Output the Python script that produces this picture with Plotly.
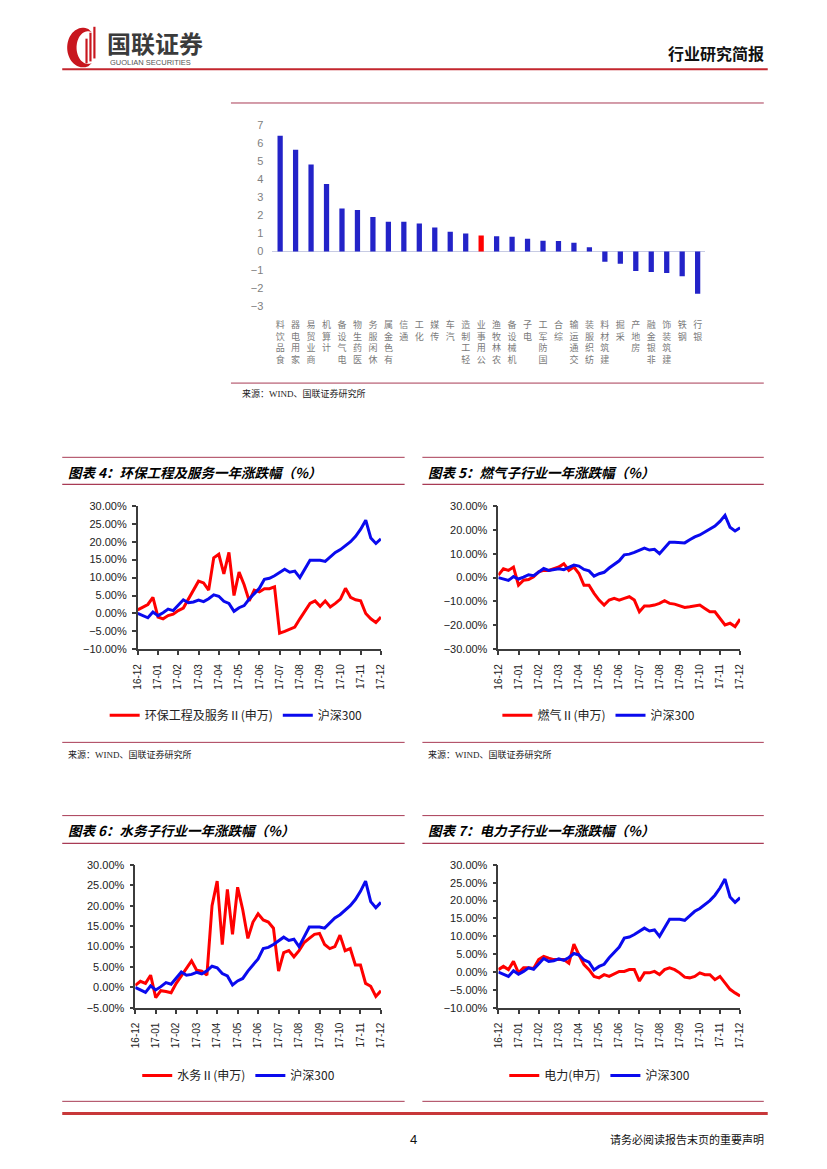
import numpy as np
import plotly.graph_objects as go

W, H = 827, 1169


def X(px):
    return px / W


def Y(py):
    return 1 - py / H


# ---------------- data ----------------
industries = ["食品饮料", "家用电器", "商业贸易", "计算机", "电气设备", "医药生物", "休闲服务",
              "有色金属", "通信", "化工", "传媒", "汽车", "轻工制造", "公用事业", "农林牧渔",
              "机械设备", "电子", "国防军工", "综合", "交通运输", "纺织服装", "建筑材料", "采掘",
              "房地产", "非银金融", "建筑装饰", "钢铁", "银行"]
industry_change = [6.40, 5.62, 4.80, 3.73, 2.38, 2.29, 1.91, 1.64, 1.64, 1.55, 1.33, 1.09, 1.00,
                   0.89, 0.84, 0.82, 0.71, 0.60, 0.58, 0.49, 0.24, -0.56, -0.67, -1.07, -1.13,
                   -1.18, -1.36, -2.33]
highlight_industry = "公用事业"

month_labels = ["16-12", "17-01", "17-02", "17-03", "17-04", "17-05", "17-06",
                "17-07", "17-08", "17-09", "17-10", "17-11", "17-12"]

hs300 = [0.0, -0.6, -1.2, 0.4, -0.6, 0.2, 1.2, 0.8, 2.2, 3.8, 3.0, 3.2, 3.7, 3.3, 4.1, 5.2,
         4.8, 3.4, 2.8, 0.6, 1.6, 2.2, 4.0, 5.5, 7.0, 9.5, 9.8, 10.5, 11.5, 12.3, 11.5, 11.8,
         10.0, 12.5, 14.8, 14.8, 14.8, 14.5, 15.8, 17.0, 17.8, 19.0, 20.0, 21.5, 23.5, 26.0,
         21.0, 19.5, 20.8]
env_service = [1.0, 1.8, 2.5, 4.5, -1.0, -1.5, -0.6, -0.2, 0.8, 1.5, 4.0, 6.5, 9.0, 8.5, 6.5,
               15.5, 16.5, 11.0, 17.0, 5.0, 11.5, 8.0, 3.5, 6.5, 6.0, 6.9, 6.9, 7.4, -5.5, -5.0,
               -4.5, -3.8, -1.5, 0.8, 2.8, 3.5, 2.0, 3.5, 1.8, 2.8, 4.0, 7.0, 4.5, 3.8, 3.5, 0.0,
               -1.5, -2.5, -1.0]
gas = [1.0, 3.7, 3.0, 4.4, -3.2, -1.1, -0.8, 0.3, 2.4, 3.0, 3.0, 3.7, 4.4, 5.8, 3.0, 4.4, 1.7,
       -3.2, -3.2, -6.6, -9.4, -11.5, -9.4, -8.7, -9.4, -8.7, -8.0, -9.4, -14.3, -11.9, -11.9,
       -11.5, -10.8, -9.7, -10.8, -11.1, -11.9, -12.5, -12.2, -11.9, -11.5, -12.9, -14.3, -14.3,
       -17.0, -19.8, -19.1, -20.5, -17.4]
water = [0.5, 1.5, 1.0, 3.0, -2.5, -0.8, -1.0, -1.3, 1.0, 2.8, 4.8, 6.5, 4.2, 4.0, 3.0, 20.0,
         26.0, 10.5, 24.0, 13.0, 24.5, 19.0, 12.0, 16.0, 18.0, 16.5, 16.0, 14.5, 4.0, 8.5, 9.0,
         7.5, 9.0, 11.0, 12.0, 13.0, 13.2, 10.5, 9.5, 10.0, 12.8, 9.0, 9.5, 5.5, 5.5, 1.0, 0.3,
         -2.2, -0.8]
power = [0.7, 1.6, 0.7, 3.0, -0.2, 1.2, 1.2, 1.0, 3.5, 4.4, 3.9, 3.5, 3.5, 3.5, 2.5, 7.8, 4.8,
         2.1, 0.7, -1.2, -1.6, -0.7, -1.2, -0.5, 0.2, 0.2, 0.7, 0.7, -2.5, -0.2, -0.2, 0.2, -0.7,
         0.7, 1.2, 0.7, -0.2, -1.4, -1.6, -1.2, -0.2, -0.7, -0.7, -2.1, -1.2, -3.0, -4.8, -5.8,
         -6.7]

# ---------------- styles ----------------
RED = "#FF0000"
BLUE = "#0A0AEE"
BAR_BLUE = "#2323C8"
RULE = "#A83B55"
AXIS = "#3C3C3C"
SANS = "Liberation Sans, Noto Sans CJK SC, sans-serif"
CJK = "Noto Sans CJK SC, sans-serif"
SERIF = "Liberation Serif, Noto Sans CJK SC, serif"

fig = go.Figure()

# ---------------- bar chart ----------------
bar_colors = [RED if n == highlight_industry else BAR_BLUE for n in industries]
fig.add_trace(go.Bar(x=industries, y=industry_change, marker=dict(color=bar_colors, line=dict(width=0)),
                     showlegend=False, xaxis="x", yaxis="y"))

fig.update_layout(
    xaxis=dict(domain=[X(270), X(708.8)], anchor="y", showline=False, ticks="", showgrid=False,
               tickmode="array", tickvals=industries,
               ticktext=["<br>".join(reversed(list(n))) for n in industries],
               tickangle=0, tickfont=dict(family=CJK, size=9, color="#7a7a7a"),
               ticklabelstandoff=12, fixedrange=True),
    yaxis=dict(domain=[Y(303), Y(120)], anchor="x", range=[-3, 7], dtick=1, showline=False,
               showgrid=False, zeroline=True, zerolinecolor="#C7CBE3", zerolinewidth=1,
               tickfont=dict(family=SANS, size=11, color="#808080"), ticklabelstandoff=8,
               fixedrange=True),
    bargap=0.66,
)

# ---------------- line charts ----------------
months = np.arange(len(hs300)) * 12 / (len(hs300) - 1)

panels = [
    # (axis suffix, series, name, legend id, xdom px, ydom px, yrange, dtick, legend x, legend y)
    ("2", env_service, "环保工程及服务Ⅱ(申万)", "legend", (133.5, 380), (650, 505), (-10, 30), 5, 100, 716.7),
    ("3", gas, "燃气Ⅱ(申万)", "legend2", (499, 744), (650, 505), (-30, 30), 10, 498, 716.7),
    ("4", water, "水务Ⅱ(申万)", "legend3", (131, 380), (1012.3, 867.7), (-5, 30), 5, 133, 1080.7),
    ("5", power, "电力(申万)", "legend4", (499, 744), (1012.3, 867.7), (-10, 30), 5, 505, 1080.7),
]

for sfx, series, name, leg, xd, yd, yr, dt, lx, ly in panels:
    fig.add_trace(go.Scatter(x=months, y=series, mode="lines", name=name,
                             line=dict(color=RED, width=3), legend=leg,
                             xaxis="x" + sfx, yaxis="y" + sfx))
    fig.add_trace(go.Scatter(x=months, y=hs300, mode="lines", name="沪深300",
                             line=dict(color=BLUE, width=3), legend=leg,
                             xaxis="x" + sfx, yaxis="y" + sfx))
    fig.update_layout({
        "xaxis" + sfx: dict(domain=[X(xd[0]), X(xd[1])], anchor="y" + sfx, range=[0, 12],
                            tickmode="array", tickvals=list(range(len(month_labels))),
                            ticktext=month_labels, tickangle=-90, showgrid=False, zeroline=False,
                            showline=True, linecolor=AXIS, linewidth=1.5, ticks="outside",
                            ticklen=4, tickwidth=1.5, tickcolor=AXIS, ticklabelstandoff=5,
                            tickfont=dict(family=SANS, size=10, color="#222"), fixedrange=True),
        "yaxis" + sfx: dict(domain=[Y(yd[0]), Y(yd[1])], anchor="x" + sfx, range=list(yr),
                            dtick=dt, tickformat=".2f", ticksuffix="%", showgrid=False,
                            zeroline=False, showline=True, linecolor=AXIS, linewidth=1.5,
                            ticks="outside", ticklen=4, tickwidth=1.5, tickcolor=AXIS,
                            ticklabelstandoff=3,
                            tickfont=dict(family=SANS, size=11, color="#222"), fixedrange=True),
        leg: dict(x=X(lx), y=Y(ly), xanchor="left", yanchor="middle", orientation="h",
                  font=dict(family=CJK, size=12, color="#222"), bgcolor="rgba(0,0,0,0)",
                  itemwidth=30, traceorder="normal"),
    })

# ---------------- page decoration ----------------
shapes = []
annotations = []


def hline(y, x0, x1, color, width):
    shapes.append(dict(type="line", xref="paper", yref="paper", x0=X(x0), x1=X(x1),
                       y0=Y(y), y1=Y(y), line=dict(color=color, width=width)))


def text(x, y, s, size, color="#111", family=CJK, xanchor="left", weight="normal", style="normal"):
    annotations.append(dict(x=X(x), y=Y(y), xref="paper", yref="paper", text=s, showarrow=False,
                            xanchor=xanchor, yanchor="middle",
                            font=dict(size=size, color=color, family=family, weight=weight,
                                      style=style)))


# header
hline(64, 57, 772, "#C3262E", 2)
text(770, 47, "行业研究简报", 16, "#111", CJK, "right", "bold")
text(100, 37, "国联证券", 24, "#3b3b3b", CJK, "left", "bold")
text(103, 57.5, "GUOLIAN SECURITIES", 7.5, "#555", SANS)

# logo emblem (crescent + bars)
t1 = np.linspace(np.radians(70), np.radians(290), 40)
outer = [(78 + 16 * np.cos(t), 42 - 20 * np.sin(t)) for t in t1]
t2 = t1[::-1]
inner = [(83 + 11.5 * np.cos(t), 42 - 16.5 * np.sin(t)) for t in t2]
pts = outer + inner
path = "M " + " L ".join(f"{X(a):.5f},{Y(b):.5f}" for a, b in pts) + " Z"
shapes.append(dict(type="path", xref="paper", yref="paper", path=path,
                   fillcolor="#C8161E", line=dict(width=0)))
for bx, top, bot in [(80.5, 33, 58), (84.5, 27, 56), (88.5, 21, 53)]:
    shapes.append(dict(type="rect", xref="paper", yref="paper", x0=X(bx), x1=X(bx + 2.2),
                       y0=Y(bot), y1=Y(top), fillcolor="#C8161E", line=dict(width=0)))

# bar chart frame
hline(98, 228, 768, RULE, 1)
hline(381, 228, 768, RULE, 1)
text(237, 392, "来源：WIND、国联证券研究所", 9, "#222", SERIF)

# panel frames
for (x0, x1, top, tline, bot, title, src) in [
    (57, 404, 456, 483.3, 744, "图表 4：环保工程及服务一年涨跌幅（%）", True),
    (422, 768, 456, 483.3, 744, "图表 5：燃气子行业一年涨跌幅（%）", True),
    (57, 404, 818, 846, 1106.7, "图表 6：水务子行业一年涨跌幅（%）", False),
    (422, 768, 818, 846, 1106.7, "图表 7：电力子行业一年涨跌幅（%）", False),
]:
    hline(top, x0, x1, RULE, 1)
    hline(tline, x0, x1, RULE, 1.2)
    hline(bot, x0, x1, RULE, 1)
    text(x0 + 4, (top + tline) / 2 + 1, title, 13.5, "#000", CJK, "left", "bold", "italic")
    if src:
        text(x0 + 4, bot + 12, "来源：WIND、国联证券研究所", 9, "#222", SERIF)

# footer
hline(1119, 57, 772, "#C8383A", 3)
text(413, 1145, "4", 13, "#111", SANS, "center")
text(770, 1145, "请务必阅读报告末页的重要声明", 11, "#111", CJK, "right")

fig.update_layout(
    width=W, height=H, margin=dict(l=0, r=0, t=0, b=0),
    paper_bgcolor="white", plot_bgcolor="white",
    shapes=shapes, annotations=annotations,
)

fig.write_html("out.html", config={"displayModeBar": False},
               post_script="document.body.style.margin='0';document.body.style.overflow='hidden';")
